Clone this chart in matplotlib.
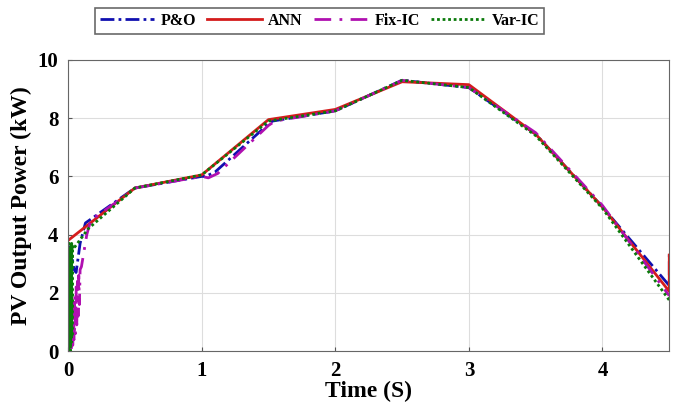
import matplotlib.pyplot as plt

plt.rcParams["font.family"] = ["Liberation Serif", "DejaVu Serif"]
plt.rcParams["font.weight"] = "bold"

# ANN
t_ann = [0, 0.5, 1.0, 1.5, 2.0, 2.5, 3.0, 3.5, 4.0, 4.5, 4.5]
p_ann = [3.8, 5.6, 6.05, 7.95, 8.3, 9.25, 9.15, 7.45, 4.95, 2.05, 3.3]

# P&O
t_po = [0, 0.01, 0.02, 0.03, 0.045, 0.06, 0.09, 0.13, 0.5, 1.0, 1.03, 1.1, 1.5, 1.53, 2.0, 2.5, 3.0, 3.5, 4.0, 4.5, 4.5]
p_po = [0, 2.6, 3.6, 3.2, 2.8, 2.7, 3.7, 4.4, 5.6, 6.0, 6.0, 6.15, 7.8, 7.9, 8.25, 9.3, 9.05, 7.45, 4.95, 2.25, 3.4]

# Fix-IC
t_fix = [0.012, 0.02, 0.025, 0.03, 0.035, 0.04, 0.045, 0.05, 0.055, 0.06, 0.065, 0.07, 0.075, 0.08,
         0.085, 0.09, 0.1, 0.14, 0.17, 0.45, 0.5, 1.0, 1.05, 1.12, 1.5, 1.55, 2.0, 2.5, 3.0, 3.5, 4.0, 4.5]
p_fix = [0, 1.2, 0.0, 1.5, 0.2, 1.7, 0.4, 1.9, 0.6, 2.2, 0.9, 2.4, 1.2, 2.6,
         1.6, 2.8, 2.9, 4.0, 4.5, 5.4, 5.6, 6.0, 5.95, 6.1, 7.75, 7.9, 8.25, 9.3, 9.05, 7.5, 5.0, 1.9]

# Var-IC
t_var = [0, 0.003, 0.006, 0.009, 0.012, 0.015, 0.018, 0.021, 0.024, 0.027, 0.03, 0.034, 0.038,
         0.15, 0.5, 1.0, 1.5, 2.0, 2.5, 3.0, 3.5, 4.0, 4.5]
p_var = [0, 3.6, 0.1, 3.7, 0.2, 3.5, 0.0, 3.6, 0.3, 3.7, 0.5, 3.6, 3.5,
         4.2, 5.6, 6.05, 7.9, 8.25, 9.3, 9.05, 7.4, 4.9, 1.75]

fig = plt.figure(figsize=(6.74, 4.19), dpi=100)
ax = fig.add_axes([0.101, 0.162, 0.892, 0.695])

l1, = ax.plot(t_po, p_po, color="#1010b0", lw=2, linestyle=(0, (5, 1.5, 1, 1.5)), label="P&O")
l2, = ax.plot(t_ann, p_ann, color="#d41c1c", lw=2, label="ANN")
l3, = ax.plot(t_fix, p_fix, color="#b010b0", lw=2, linestyle=(0, (6, 3, 1, 3)), label="Fix-IC")
l4, = ax.plot(t_var, p_var, color="#0a7a0a", lw=2, linestyle=(0, (1, 1)), label="Var-IC")

ax.set_xlim(0, 4.5)
ax.set_ylim(0, 10)
ax.set_xticks([0, 1, 2, 3, 4])
ax.set_yticks([0, 2, 4, 6, 8, 10])
ax.grid(True, color="#dddddd", lw=0.8)
ax.tick_params(labelsize=15, direction="in", length=3, colors="#555555", pad=7)
for lab in ax.get_xticklabels() + ax.get_yticklabels():
    lab.set_color("black")
    lab.set_fontweight("bold")
for s in ax.spines.values():
    s.set_color("#666666")
ax.set_xlabel("Time (S)", fontsize=17, fontweight="bold", labelpad=0)
ax.set_ylabel("PV Output Power (kW)", fontsize=17, fontweight="bold", labelpad=4)

leg = fig.legend(handles=[l1, l2, l3, l4], loc="upper left", bbox_to_anchor=(0.141, 0.981),
                 ncol=4, fancybox=False, edgecolor="#444444", borderaxespad=0,
                 handlelength=3.4, columnspacing=0.7, handletextpad=0.4,
                 borderpad=0.3, prop={"weight": "bold", "size": 11.5})
leg.get_frame().set_linewidth(1.2)

fig.savefig("out.png", dpi=100)
